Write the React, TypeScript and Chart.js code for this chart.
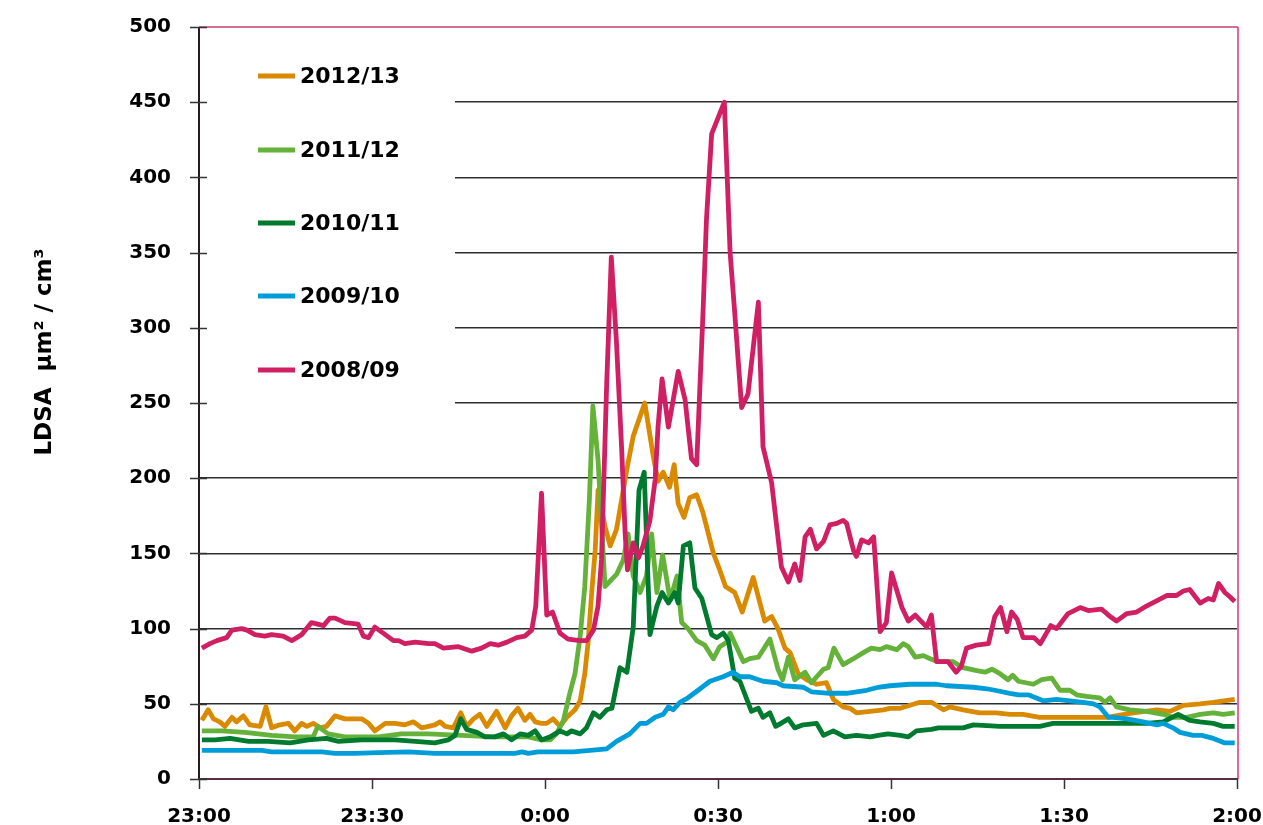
import React, { useEffect, useRef } from "react";
import { Chart, registerables } from "chart.js";
Chart.register(...registerables);

const timeLabels = ["23:00", "23:30", "0:00", "0:30", "1:00", "1:30", "2:00"];
const seriesNames = ["2012/13", "2011/12", "2010/11", "2009/10", "2008/09"];
const seriesColors = ["#DA8A00", "#64B23A", "#007A2E", "#009DD9", "#D02063"];
const yAxisTitle = "LDSA  µm² / cm³";

// [minute after 23:00, LDSA value]
const s2012: [number, number][] = [
  [0.5, 39], [1.6, 46], [2.5, 40], [3.6, 38], [4.5, 35], [5.7, 41], [6.5, 38], [7.7, 42], [8.8, 36], [10.6, 35],
  [11.6, 48], [12.6, 34], [14, 36], [15.5, 37], [16.6, 32], [17.8, 37], [18.7, 35], [19.8, 37], [21, 34], [22.1, 35],
  [23.6, 42], [25.3, 40], [28.2, 40], [29.4, 37], [30.5, 32], [32.3, 37], [34, 37], [35.7, 36], [37.2, 38], [38.6, 34],
  [39.8, 35], [40.9, 36], [41.8, 38], [42.7, 35], [44.1, 34], [45.4, 44], [46.4, 35], [47.6, 40], [48.7, 43], [49.9, 35],
  [51.6, 45], [53.1, 34], [54.2, 42], [55.3, 47], [56.5, 39], [57.4, 43], [58.3, 38], [59.4, 37], [60.3, 37], [61.4, 40],
  [62.6, 35], [63.8, 41], [65.2, 46], [66.1, 52], [66.9, 70], [67.5, 92], [68.1, 124], [68.7, 152], [69.2, 192], [70.4, 168],
  [71.3, 155], [72.4, 166], [74.2, 206], [75.3, 228], [77.3, 250], [78.8, 214], [79.6, 198], [80.5, 204], [81.6, 194], [82.4, 209],
  [83.1, 183], [84.1, 174], [85.1, 187], [86.3, 189], [87.4, 177], [89.2, 150], [90.3, 139], [91.3, 128], [92.9, 124], [94.2, 111],
  [96.1, 134], [98.1, 105], [99.3, 108], [100.4, 100], [101.6, 87], [102.5, 84], [103.9, 70], [105.4, 66], [107.1, 63], [108.8, 64],
  [110, 53], [111.7, 48], [112.9, 47], [114, 44], [116.4, 45], [118.7, 46], [119.8, 47], [121.6, 47], [125, 51], [127, 51],
  [129.1, 46], [130.2, 48], [132.5, 46], [135.4, 44], [138.3, 44], [140.6, 43], [142.9, 43], [145.8, 41], [148.1, 41], [157.4, 41],
  [162, 44], [166.1, 46], [168.4, 45], [170.7, 49], [173.6, 50], [175.9, 51], [179.6, 53],
];

const s2011: [number, number][] = [
  [0.5, 32], [3.9, 32], [8, 31], [12.6, 29], [16.6, 28], [19.8, 28], [20.6, 35], [22.4, 30], [25.3, 28], [31.1, 28],
  [35.1, 30], [39.8, 30], [45.5, 29], [51.3, 28], [57.1, 28], [59.4, 26], [60.9, 26], [62, 30], [63.2, 39], [64.3, 57],
  [65.2, 70], [66.1, 95], [66.9, 128], [67.7, 186], [68.3, 248], [69.2, 212], [70.4, 128], [72.4, 136], [73.6, 146], [74.4, 163],
  [75.3, 135], [76.5, 124], [77.6, 135], [78.5, 163], [79.4, 124], [80.4, 149], [81.7, 119], [82.9, 135], [83.7, 104], [84.8, 100],
  [86.3, 92], [87.7, 89], [89.2, 80], [90.3, 88], [91.5, 91], [92.1, 97], [93.2, 88], [94.4, 78], [95.5, 80], [97, 81],
  [99, 93], [100.4, 73], [101.2, 66], [102.2, 81], [103.3, 66], [105.1, 71], [106.2, 64], [108.3, 73], [109.1, 74], [110.1, 87],
  [111.7, 76], [113.5, 80], [115.2, 84], [116.6, 87], [118.1, 86], [119.2, 88], [121, 86], [122.1, 90], [123, 88], [124.2, 81],
  [125.6, 82], [126.8, 80], [128.2, 78], [130.8, 78], [132.5, 74], [134.9, 72], [136.3, 71], [137.5, 73], [138.9, 70], [140.3, 66],
  [141.1, 69], [142.1, 65], [144.7, 63], [146.1, 66], [147.9, 67], [149.3, 59], [151, 59], [152.2, 56], [153.9, 55], [156.2, 54],
  [157.1, 51], [158, 54], [159.1, 48], [161.4, 46], [164.3, 45], [167.2, 43], [168.9, 41], [171.3, 41], [173.6, 43], [175.9, 44],
  [177.6, 43], [179.6, 44],
];

const s2010: [number, number][] = [
  [0.5, 26], [2.8, 26], [5.4, 27], [8.6, 25], [12, 25], [15.8, 24], [19, 26], [22.1, 27], [24.2, 25], [28.2, 26],
  [34, 26], [37.5, 25], [40.9, 24], [43.2, 26], [44.4, 29], [45.4, 40], [46.4, 33], [48.2, 31], [49.6, 28], [51.3, 28],
  [52.8, 30], [54.2, 26], [55.7, 30], [57.1, 29], [58.3, 32], [59.4, 26], [60.9, 28], [62.6, 32], [63.8, 30], [64.6, 32],
  [66.1, 30], [67.2, 34], [68.4, 44], [69.5, 41], [70.7, 46], [71.6, 47], [73, 74], [74.2, 71], [75.3, 101], [76.3, 192],
  [77.2, 204], [78.2, 96], [79.4, 115], [80.3, 124], [81.4, 117], [82.5, 124], [83.1, 117], [84, 155], [85.1, 157], [86, 127],
  [87.2, 120], [88.9, 96], [89.8, 94], [90.9, 97], [91.8, 92], [92.9, 67], [93.8, 65], [95.8, 45], [97, 47], [97.8, 41],
  [99, 44], [100, 35], [100.9, 37], [102.2, 40], [103.3, 34], [104.8, 36], [107.1, 37], [108.3, 29], [110, 32], [112, 28],
  [114, 29], [116.4, 28], [117.8, 29], [119.5, 30], [121.6, 29], [123, 28], [124.4, 32], [127, 33], [128.2, 34], [130.5, 34],
  [132.5, 34], [134.3, 36], [138.9, 35], [141.2, 35], [145.8, 35], [148.1, 37], [152.8, 37], [157.4, 37], [164.3, 37], [167.2, 38],
  [169.8, 43], [171.8, 39], [173.6, 38], [175.9, 37], [177.6, 35], [179.6, 35],
];

const s2009: [number, number][] = [
  [0.5, 19], [5.1, 19], [10.9, 19], [12.6, 18], [21.3, 18], [23.6, 17], [27, 17], [31.1, 17.5], [36.3, 18], [40.9, 17],
  [54.8, 17], [56, 18], [57.1, 17], [58.8, 18], [64.9, 18], [67.8, 19], [70.7, 20], [72.4, 25], [74.7, 30], [76.5, 37],
  [77.6, 37], [79.1, 41], [80.5, 43], [81.4, 48], [82.2, 46], [83.4, 51], [84.8, 54], [86.9, 60], [88.6, 65], [90.9, 68],
  [92.6, 71], [93.8, 68], [95.5, 68], [97.8, 65], [100.2, 64], [101.3, 62], [104.8, 61], [106.2, 58], [109.4, 57], [112.3, 57],
  [115.8, 59], [117.8, 61], [119.8, 62], [123.3, 63], [127.9, 63], [129.6, 62], [134.3, 61], [136.6, 60], [138, 59], [140.6, 57],
  [142.1, 56], [143.8, 56], [146.4, 52], [148.7, 53], [151, 52], [153.3, 51], [155.1, 50], [156.2, 48], [157.7, 41], [158.5, 41],
  [160.9, 40], [163.7, 38], [166.1, 36], [167.2, 37], [168.9, 34], [170.1, 31], [172.4, 29], [173.9, 29], [175.9, 27], [177.9, 24],
  [179.6, 24],
];

const s2008: [number, number][] = [
  [0.5, 87], [1.9, 90], [3.1, 92], [4.8, 94], [5.7, 99], [7.4, 100], [8.3, 99], [9.7, 96], [11.4, 95], [12.6, 96],
  [14.6, 95], [16.1, 92], [17.8, 96], [19.5, 104], [21.6, 102], [22.7, 107], [23.6, 107], [25.3, 104], [27.6, 103], [28.5, 95],
  [29.4, 94], [30.5, 101], [32.3, 96], [33.7, 92], [34.6, 92], [35.7, 90], [37.5, 91], [39.8, 90], [40.9, 90], [42.4, 87],
  [45, 88], [47.3, 85], [49, 87], [50.5, 90], [51.9, 89], [53.4, 91], [55.1, 94], [56.5, 95], [57.7, 99], [58.4, 115],
  [59.4, 190], [60.3, 109], [61.3, 111], [62.6, 97], [64, 93], [66.1, 92], [67.2, 92], [68.4, 99], [69.2, 115], [69.8, 146],
  [70.7, 263], [71.5, 347], [72.4, 290], [73.3, 219], [73.9, 163], [74.3, 139], [75.3, 157], [76.2, 147], [77, 155], [78.2, 172],
  [79.1, 199], [79.6, 234], [80.3, 266], [81.4, 234], [83.1, 271], [84.3, 252], [85.4, 213], [86.3, 209], [87.4, 310], [88, 372],
  [88.9, 429], [91.1, 450], [92.1, 350], [92.9, 310], [94.1, 247], [95.2, 256], [97, 317], [97.8, 221], [99.3, 197], [101, 141],
  [102.2, 131], [103.3, 143], [104.2, 132], [105.1, 161], [106, 166], [107.1, 153], [108.3, 158], [109.4, 169], [110.6, 170], [111.7, 172],
  [112.3, 170], [113.5, 152], [114, 148], [114.9, 159], [116.1, 157], [117, 161], [118.1, 98], [119.2, 104], [120.1, 137], [121.9, 114],
  [123, 105], [124.2, 109], [126.2, 101], [127, 109], [127.9, 78], [129.9, 78], [131.3, 71], [132.2, 75], [133.1, 87], [134.8, 89],
  [136.9, 90], [138, 108], [139, 114], [140.1, 98], [140.9, 111], [141.9, 106], [142.9, 94], [144.8, 94], [145.9, 90], [147.7, 102],
  [148.7, 100], [150.7, 110], [152.8, 114], [154.2, 112], [156.5, 113], [158, 108], [159.1, 105], [160.9, 110], [162.6, 111], [164.3, 115],
  [166.3, 119], [167.8, 122], [169.5, 122], [170.7, 125], [171.8, 126], [173.6, 117], [175, 120], [175.9, 119], [176.8, 130], [177.9, 124],
  [178.8, 121], [179.6, 118],
];

const allSeries = [s2012, s2011, s2010, s2009, s2008];
const drawOrder = [4, 3, 2, 1, 0]; // 2008/09 on top

const FONT = "'DejaVu Sans', sans-serif";

const decorPlugin = {
  id: "decor",
  beforeDatasetsDraw(chart: any) {
    const { ctx, chartArea } = chart;
    ctx.save();
    ctx.fillStyle = "#ffffff";
    ctx.fillRect(chartArea.left + 1, 45, 455 - chartArea.left - 1, 390);
    ctx.restore();
  },
  afterDatasetsDraw(chart: any) {
    const { ctx, chartArea, scales } = chart;
    const { left, right, top, bottom } = chartArea;
    const y = scales.y;
    const x = scales.x;
    ctx.save();
    // top border
    ctx.lineWidth = 1.5;
    ctx.strokeStyle = "#C8406E";
    ctx.beginPath();
    ctx.moveTo(left, top);
    ctx.lineTo(right + 1, top);
    ctx.stroke();
    // right border
    ctx.strokeStyle = "#E0307A";
    ctx.beginPath();
    ctx.moveTo(right + 1, top);
    ctx.lineTo(right + 1, bottom);
    ctx.stroke();
    // left axis
    ctx.lineWidth = 2;
    ctx.strokeStyle = "#2A1A1E";
    ctx.beginPath();
    ctx.moveTo(left, top);
    ctx.lineTo(left, bottom);
    ctx.stroke();
    // bottom axis
    ctx.strokeStyle = "#5A2E40";
    ctx.beginPath();
    ctx.moveTo(left, bottom);
    ctx.lineTo(right + 1, bottom);
    ctx.stroke();
    // y ticks (cross)
    ctx.lineWidth = 1.5;
    ctx.strokeStyle = "#333333";
    for (let v = 0; v <= 500; v += 50) {
      const py = Math.round(y.getPixelForValue(v)) + 0.5;
      ctx.beginPath();
      ctx.moveTo(left - 9, py);
      ctx.lineTo(left + 8, py);
      ctx.stroke();
    }
    // x ticks (outside)
    for (let m = 0; m <= 180; m += 30) {
      const px = Math.round(x.getPixelForValue(m)) + 0.5;
      ctx.beginPath();
      ctx.moveTo(px, bottom);
      ctx.lineTo(px, bottom + 10);
      ctx.stroke();
    }
    // legend
    const legendY = [76, 150, 223, 296, 370];
    ctx.font = `bold 22px ${FONT}`;
    ctx.textBaseline = "middle";
    ctx.textAlign = "left";
    seriesNames.forEach((name, i) => {
      ctx.strokeStyle = seriesColors[i];
      ctx.lineWidth = 5;
      ctx.beginPath();
      ctx.moveTo(258, legendY[i]);
      ctx.lineTo(295, legendY[i]);
      ctx.stroke();
      ctx.fillStyle = "#000000";
      ctx.fillText(name, 300, legendY[i] + 1);
    });
    // y title
    ctx.translate(45, 352);
    ctx.rotate(-Math.PI / 2);
    ctx.font = `bold 23px ${FONT}`;
    ctx.textAlign = "center";
    ctx.fillText(yAxisTitle, 0, 0);
    ctx.restore();
  },
};

export default function App() {
  const ref = useRef<HTMLCanvasElement | null>(null);
  useEffect(() => {
    if (!ref.current) return;
    const chart = new Chart(ref.current, {
      type: "line",
      data: {
        datasets: allSeries.map((s, i) => ({
          label: seriesNames[i],
          data: s.map(([m, v]) => ({ x: m, y: v })),
          borderColor: seriesColors[i],
          backgroundColor: seriesColors[i],
          borderWidth: 4.8,
          pointRadius: 0,
          tension: 0,
          fill: false,
          order: drawOrder[i],
          borderJoinStyle: "round" as const,
        })),
      },
      options: {
        animation: false,
        responsive: false,
        layout: { padding: { top: 27, right: 26, left: 0, bottom: 0 } },
        plugins: { legend: { display: false }, tooltip: { enabled: false } },
        scales: {
          x: {
            type: "linear",
            min: 0,
            max: 180,
            afterFit: (s: any) => {
              s.height = 46;
              s.paddingLeft = 0;
              s.paddingRight = 0;
            },
            ticks: {
              stepSize: 30,
              autoSkip: false,
              maxRotation: 0,
              padding: 26,
              color: "#000",
              font: { family: FONT, size: 20, weight: "bold" },
              callback: (v: any) => timeLabels[Math.round(Number(v) / 30)],
            },
            grid: { display: false, drawTicks: false },
            border: { display: false },
          },
          y: {
            min: 0,
            max: 500,
            afterFit: (s: any) => {
              s.width = 199;
              s.paddingTop = 0;
              s.paddingBottom = 0;
            },
            ticks: {
              stepSize: 50,
              padding: 28,
              color: "#000",
              font: { family: FONT, size: 20, weight: "bold" },
            },
            grid: {
              drawTicks: false,
              lineWidth: 1.5,
              color: (c: any) =>
                c.tick && (c.tick.value === 0 || c.tick.value === 500) ? "rgba(0,0,0,0)" : "#2E2E2E",
            },
            border: { display: false },
          },
        },
      },
      plugins: [decorPlugin],
    });
    return () => chart.destroy();
  }, []);
  return (
    <div style={{ position: "absolute", left: 0, top: 0, width: 1263, height: 825, background: "#fff" }}>
      <canvas ref={ref} width={1263} height={825} style={{ display: "block" }} />
    </div>
  );
}
